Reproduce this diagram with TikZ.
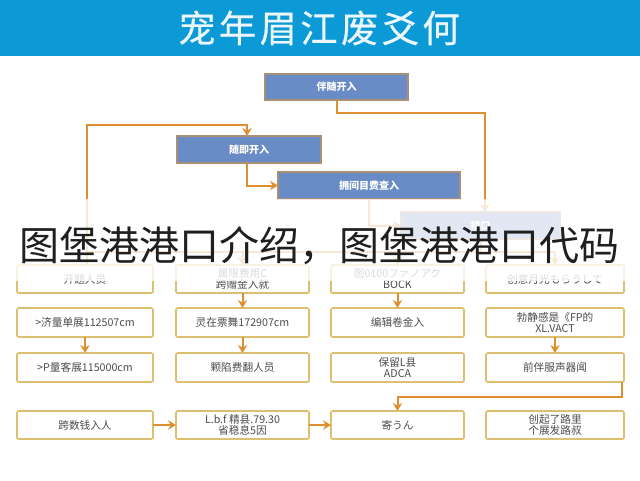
\documentclass[tikz,border=0pt]{standalone}
\usepackage{fontspec}
\usetikzlibrary{arrows.meta}
\setmainfont{Noto Sans CJK SC}
\newfontfamily\titlefont[LetterSpace=9,FakeBold=0.5]{Noto Sans CJK SC}
\definecolor{headblue}{HTML}{0B9AD6}
\definecolor{boxblue}{HTML}{6A8CC6}
\definecolor{boxedge}{HTML}{A98F78}
\definecolor{paleedge}{HTML}{DDBF70}
\definecolor{conn}{HTML}{DE9030}
\definecolor{labelgrey}{HTML}{4C4C4C}
\tikzset{
  sz/.style 2 args={minimum width=#1*0.75pt,minimum height=#2*0.75pt,inner sep=0pt,outer sep=0pt},
  bluebox/.style={draw=boxedge,line width=0.9pt,fill=boxblue,text=white,font=\fontsize{7.5}{10}\selectfont\bfseries},
  palebox/.style={draw=paleedge,line width=1.15pt,fill=white,rounded corners=1pt,text=labelgrey,align=center,font=\fontsize{8}{10}\selectfont},
  link/.style={draw=conn,line width=1.5pt,-{Stealth[length=6pt,width=7pt]}},
  plain/.style={draw=conn,line width=1.5pt},
}
\begin{document}
\begin{tikzpicture}[x=0.75pt,y=-0.75pt]
\useasboundingbox (0,0) rectangle (640,480);
\fill[white] (0,0) rectangle (640,480);
\fill[headblue] (0,0) rectangle (640,56);
\node[text=white!92!headblue,font=\titlefont\fontsize{28}{30}\selectfont] (title) at (319,28) {宠年眉江废爻何};

\node[bluebox,sz={143}{26}] (top) at (336.5,87) {伴随开入};
\node[bluebox,sz={144}{27}] (second) at (249,149.5) {随即开入};
\node[bluebox,sz={182}{27}] (third) at (369,185.5) {拥间目费查入};
\node[bluebox,sz={159}{27}] (fourth) at (480.5,225.5) {接口};

\node[palebox,sz={136}{28}] (a1) at (85,279) {开题人员};
\node[palebox,sz={133}{28}] (a2) at (242.5,279) {属限费用C\\[-2pt]跨赠金入就};
\node[palebox,sz={133}{28}] (a3) at (397.5,279) {图0100ファノアク\\[-2pt]BOCK};
\node[palebox,sz={138}{28}] (a4) at (555,279) {创意月光もらうして};

\node[palebox,sz={136}{29}] (b1) at (85,322.5) {>济量单展112507cm};
\node[palebox,sz={133}{29}] (b2) at (242.5,322.5) {灵在票舞172907cm};
\node[palebox,sz={133}{29}] (b3) at (397.5,322.5) {编辑卷金入};
\node[palebox,sz={138}{29}] (b4) at (555,322.5) {勃静感是《FP的\\[-2pt]XL.VACT};

\node[palebox,sz={136}{29}] (c1) at (85,367.5) {>P量客展115000cm};
\node[palebox,sz={133}{29}] (c2) at (242.5,367.5) {颗陷费翻人员};
\node[palebox,sz={133}{29}] (c3) at (397.5,367.5) {保留L县\\[-2pt]ADCA};
\node[palebox,sz={138}{29}] (c4) at (555,367.5) {前伴服声器闻};

\node[palebox,sz={136}{28}] (d1) at (85,425) {跨数钱入人};
\node[palebox,sz={133}{28}] (d2) at (242.5,425) {L.b.f 精县.79.30\\[-2pt]省稳息5因};
\node[palebox,sz={133}{28}] (d3) at (397.5,425) {寄うん};
\node[palebox,sz={138}{28}] (d4) at (555,425) {创起了路里\\[-2pt]个展发路叔};

\coordinate (j1) at (485,113);
\coordinate (lb) at (87,252);
\coordinate (lt) at (87,125);
\coordinate (lr) at (247,125);
\coordinate (busr) at (555,252);
\coordinate (bust) at (480.5,252);
\coordinate (k) at (622,397);

\draw[link] (top.south) |- (j1) -- (j1 |- fourth.north);
\draw[link] (lb) -- (lt) -- (lr) -- (lr |- second.north);
\draw[link] (lr |- second.south) |- (third.west);
\draw[link] (third.south) |- (fourth.west);
\draw[plain] (fourth.south) -- (bust);
\draw[plain] (lb) -- (busr);
\draw[link] (lb -| a2.north) -- (a2.north);
\draw[link] (lb -| a3.north) -- (a3.north);
\draw[link] (busr) -- (a4.north);
\draw[plain] (lb) -- (lb |- a1.north);

\draw[link] (a2) -- (b2);
\draw[link] (b2) -- (c2);
\draw[link] (a3) -- (b3);
\draw[link] (b1) -- (c1);
\draw[link] (b4) -- (c4);
\draw[link] (k |- c4.south) -- (k) -- (k -| d3.north) -- (d3.north);
\draw[link] (d1) -- (d2);
\draw[link] (d2) -- (d3);

\fill[white,opacity=0.8] (0,199) rectangle (640,281);
\node[text=black!88,font=\fontsize{30}{34}\selectfont,inner sep=0pt] (caption) at (320,246) {图堡港港口介绍，图堡港港口代码};
\end{tikzpicture}
\end{document}
